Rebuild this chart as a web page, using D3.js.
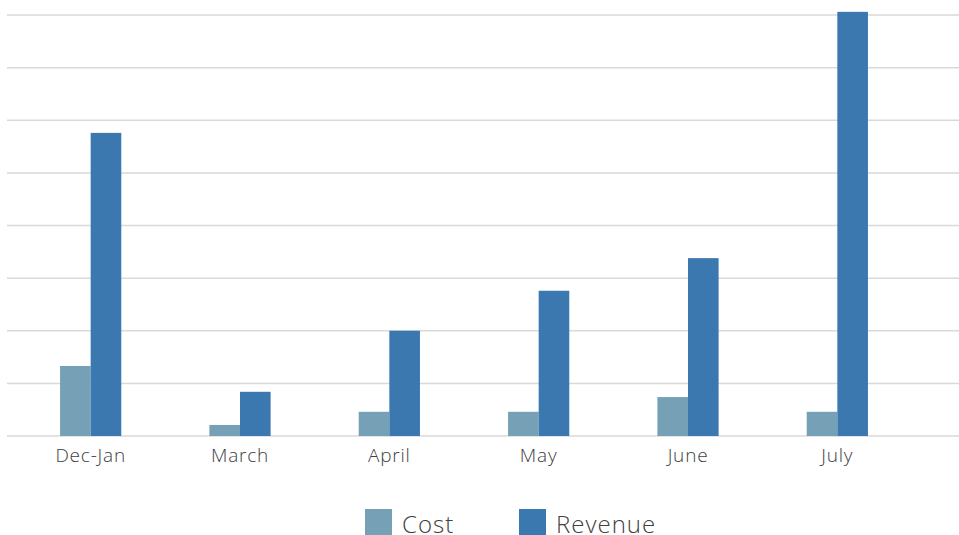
<!DOCTYPE html>
<html>
<head>
<meta charset="utf-8">
<script src="https://cdn.jsdelivr.net/npm/d3@7"></script>
<style>
  body { margin: 0; background: #fff; }
  text { font-family: "Open Sans", Lato, sans-serif; font-weight: 300; fill: #404040; }
</style>
</head>
<body>
<svg class="chart" width="959" height="535"></svg>
<script>
const categories = ['Dec-Jan', 'March', 'April', 'May', 'June', 'July'];
const costValues = [1.33, 0.21, 0.46, 0.46, 0.74, 0.46];
const revenueValues = [5.76, 0.84, 2.0, 2.76, 3.38, 8.06];
const seriesNames = ['Cost', 'Revenue'];
const gridTicks = [0, 1, 2, 3, 4, 5, 6, 7, 8];

function renderChart()
{
    const svg = d3.select('.chart');
    const colors = {'Cost': '#76a0b6', 'Revenue': '#3c78b0'};

    const xScale = d3.scaleBand()
        .range([16, 912])
        .domain(categories)
        .paddingInner(0.59)
        .paddingOuter(0.295);

    const xInner = d3.scaleBand()
        .range([0, xScale.bandwidth()])
        .domain(seriesNames);

    const yScale = d3.scaleLinear()
        .range([436, 15])
        .domain([0, 8]);

    // gridlines
    svg.append('g')
        .attr('class', 'grid')
        .selectAll('line')
        .data(gridTicks)
        .enter()
        .append('line')
        .attr('x1', 7)
        .attr('x2', 959)
        .attr('y1', d => yScale(d))
        .attr('y2', d => yScale(d))
        .attr('stroke', '#d9d9d9')
        .attr('stroke-width', 1.5);

    const rows = categories.map((c, i) => ({
        cat: c,
        vals: [
            {name: 'Cost', value: costValues[i]},
            {name: 'Revenue', value: revenueValues[i]}
        ]
    }));

    const groups = svg.append('g')
        .selectAll('g')
        .data(rows)
        .enter()
        .append('g')
        .attr('transform', d => `translate(${xScale(d.cat)}, 0)`);

    groups.selectAll('rect')
        .data(d => d.vals)
        .enter()
        .append('rect')
        .attr('x', d => xInner(d.name))
        .attr('y', d => yScale(d.value))
        .attr('width', xInner.bandwidth())
        .attr('height', d => yScale(0) - yScale(d.value))
        .attr('fill', d => colors[d.name]);

    // x axis labels
    const xAxis = svg.append('g')
        .attr('transform', `translate(0, ${yScale(0)})`)
        .call(d3.axisBottom(xScale).tickSize(0).tickPadding(13));
    xAxis.select('.domain').remove();
    xAxis.selectAll('text')
        .attr('font-size', 19)
        .attr('letter-spacing', 0.8)
        .style('font-family', '"Open Sans", Lato, sans-serif')
        .style('font-weight', 300)
        .attr('fill', '#404040');

    // legend
    const legendX = [365, 519];
    const legend = svg.append('g')
        .selectAll('g')
        .data(seriesNames)
        .enter()
        .append('g')
        .attr('transform', (d, i) => `translate(${legendX[i]}, 509)`);

    legend.append('rect')
        .attr('width', 27)
        .attr('height', 27)
        .attr('fill', d => colors[d]);

    legend.append('text')
        .attr('x', 37)
        .attr('y', 24)
        .attr('font-size', 24)
        .attr('letter-spacing', 1)
        .text(d => d);
}

renderChart();
</script>
</body>
</html>
